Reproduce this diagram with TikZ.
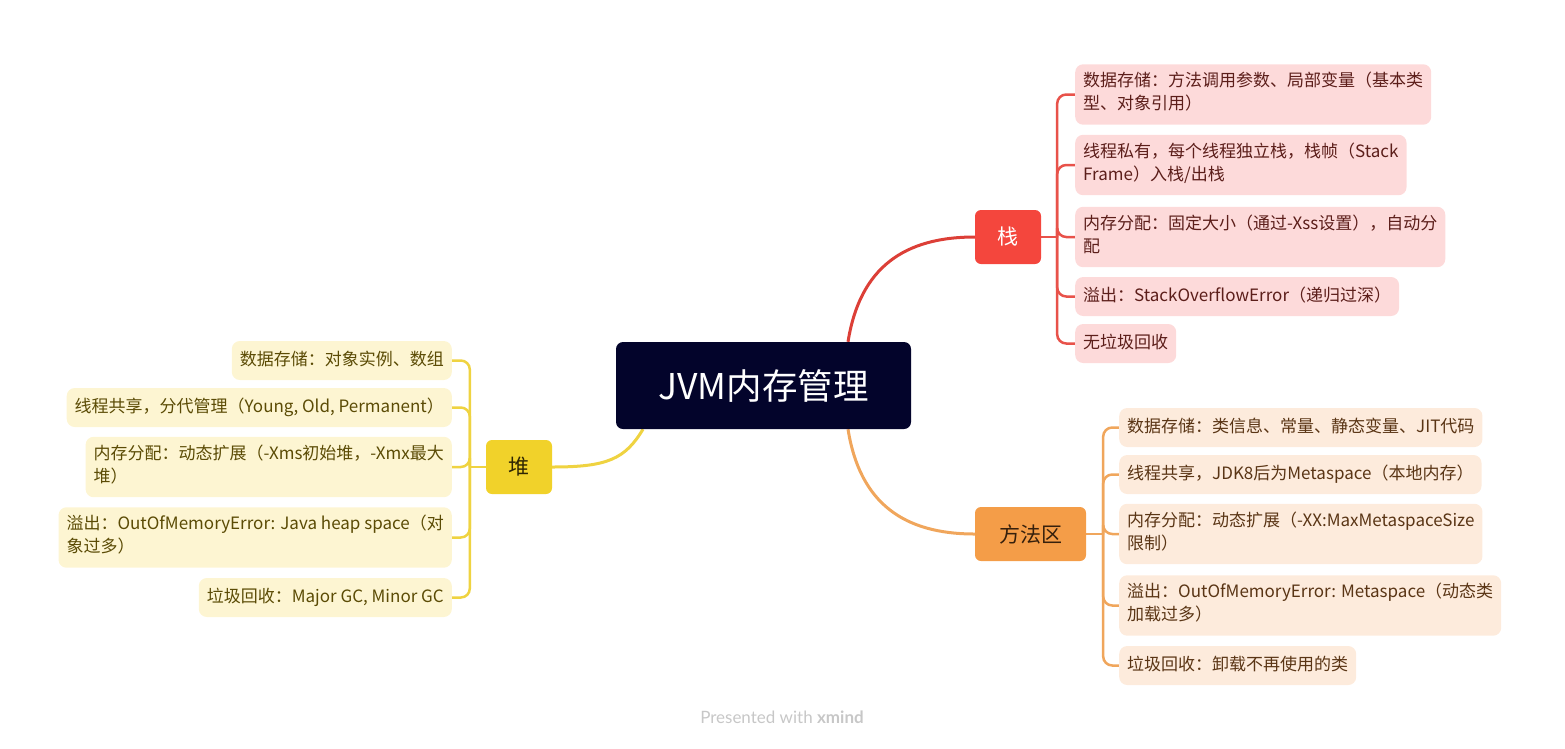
\documentclass[tikz,border=0pt]{standalone}
\usepackage{fontspec}
\setmainfont{Noto Sans CJK SC}
\newfontfamily\wmfont{Lato}
\usetikzlibrary{backgrounds}
\definecolor{rootbg}{HTML}{03042B}
\definecolor{stackred}{HTML}{F4463D}
\definecolor{stackline}{HTML}{E8524A}
\definecolor{stackleaf}{HTML}{FDDADA}
\definecolor{stacktext}{HTML}{5C1E1A}
\definecolor{methodorange}{HTML}{F49D48}
\definecolor{methodline}{HTML}{F0A65C}
\definecolor{methodleaf}{HTML}{FDEBDC}
\definecolor{methodtext}{HTML}{5A3515}
\definecolor{heapyellow}{HTML}{F1D22A}
\definecolor{heapline}{HTML}{EFD341}
\definecolor{heapleaf}{HTML}{FDF5D2}
\definecolor{heaptext}{HTML}{5B4B05}
\begin{document}
\begin{tikzpicture}[x=1pt,y=-1pt,line join=round,line cap=round,
    root/.style={fill=rootbg,text=white,rounded corners=7pt,minimum width=295pt,minimum height=87pt,inner sep=0pt,font=\fontsize{35.5pt}{40pt}\selectfont},
    head/.style={rounded corners=6pt,minimum height=54pt,inner sep=0pt,font=\fontsize{21pt}{26pt}\selectfont},
    leaf/.style={rounded corners=8pt,inner xsep=8pt,inner ysep=8pt,align=left,font=\fontsize{17pt}{23pt}\selectfont,
      execute at begin node=\strut,execute at end node=\strut},
    stackleaf/.style={leaf,fill=stackleaf,text=stacktext,anchor=west},
    methodleaf/.style={leaf,fill=methodleaf,text=methodtext,anchor=west},
    heapleaf/.style={leaf,fill=heapleaf,text=heaptext,anchor=east},
    branch/.style={line width=2.5pt}]
\useasboundingbox (0,0) rectangle (1565,748);

% centre and main topics
\node[root] (root) at (763.5,385.5) {JVM内存管理};
\node[head,fill=stackred,text=white,minimum width=66pt] (stack) at (1008,237) {栈};
\node[head,fill=methodorange,text=methodtext!60!black,minimum width=111pt] (method) at (1030.5,534) {方法区};
\node[head,fill=heapyellow,text=heaptext!50!black,minimum width=66pt] (heap) at (519,467) {堆};

% stack
\node[stackleaf] (s1) at (1075,94.5) {数据存储：方法调用参数、局部变量（基本类\\型、对象引用）};
\node[stackleaf] (s2) at (1075,165) {线程私有，每个线程独立栈，栈帧（Stack\\Frame）入栈/出栈};
\node[stackleaf] (s3) at (1075,237) {内存分配：固定大小（通过-Xss设置），自动分\\配};
\node[stackleaf] (s4) at (1075,296.5) {溢出：StackOverflowError（递归过深）};
\node[stackleaf] (s5) at (1075,343.5) {无垃圾回收};

% method area
\node[methodleaf] (m1) at (1119,427.5) {数据存储：类信息、常量、静态变量、JIT代码};
\node[methodleaf] (m2) at (1119,474.5) {线程共享，JDK8后为Metaspace（本地内存）};
\node[methodleaf] (m3) at (1119,534) {内存分配：动态扩展（-XX:MaxMetaspaceSize\\限制）};
\node[methodleaf] (m4) at (1119,605.5) {溢出：OutOfMemoryError: Metaspace（动态类\\加载过多）};
\node[methodleaf] (m5) at (1119,665.5) {垃圾回收：卸载不再使用的类};

% heap
\node[heapleaf] (h1) at (452,360.5) {数据存储：对象实例、数组};
\node[heapleaf] (h2) at (452,407.5) {线程共享，分代管理（Young, Old, Permanent）};
\node[heapleaf] (h3) at (452,467) {内存分配：动态扩展（-Xms初始堆，-Xmx最大\\堆）};
\node[heapleaf] (h4) at (452,537.5) {溢出：OutOfMemoryError: Java heap space（对\\象过多）};
\node[heapleaf] (h5) at (452,597.5) {垃圾回收：Major GC, Minor GC};

\begin{scope}[on background layer]
\draw[stackred!90!black,line width=3pt] ([xshift=84.5pt]root.north) .. controls +(12,-75) and +(-70,0) .. (stack.west);
\draw[methodline,line width=3pt] ([xshift=84.5pt]root.south) .. controls +(12,75) and +(-70,0) .. (method.west);
\draw[heapline,line width=3pt] ([xshift=-120.5pt]root.south) .. controls +(-18,30) and +(55,0) .. (heap.east);

\coordinate (stackhub) at ([xshift=16pt]stack.east);
\coordinate (methodhub) at ([xshift=17pt]method.east);
\coordinate (heaphub) at ([xshift=-16pt]heap.west);
\draw[branch,stackline] (stack.east) -- (stackhub);
\foreach \n in {s1,s2,s3,s4,s5}
  \draw[branch,stackline,rounded corners=9pt] (stackhub) |- (\n.west);
\draw[branch,methodline] (method.east) -- (methodhub);
\foreach \n in {m1,m2,m3,m4,m5}
  \draw[branch,methodline,rounded corners=9pt] (methodhub) |- (\n.west);
\draw[branch,heapline] (heap.west) -- (heaphub);
\foreach \n in {h1,h2,h3,h4,h5}
  \draw[branch,heapline,rounded corners=9pt] (heaphub) |- (\n.east);
\end{scope}

\node[text=black!22,font=\wmfont\fontsize{17pt}{20pt}\selectfont] (mark) at (782,717) {Presented with \textbf{xmind}};
\end{tikzpicture}
\end{document}
